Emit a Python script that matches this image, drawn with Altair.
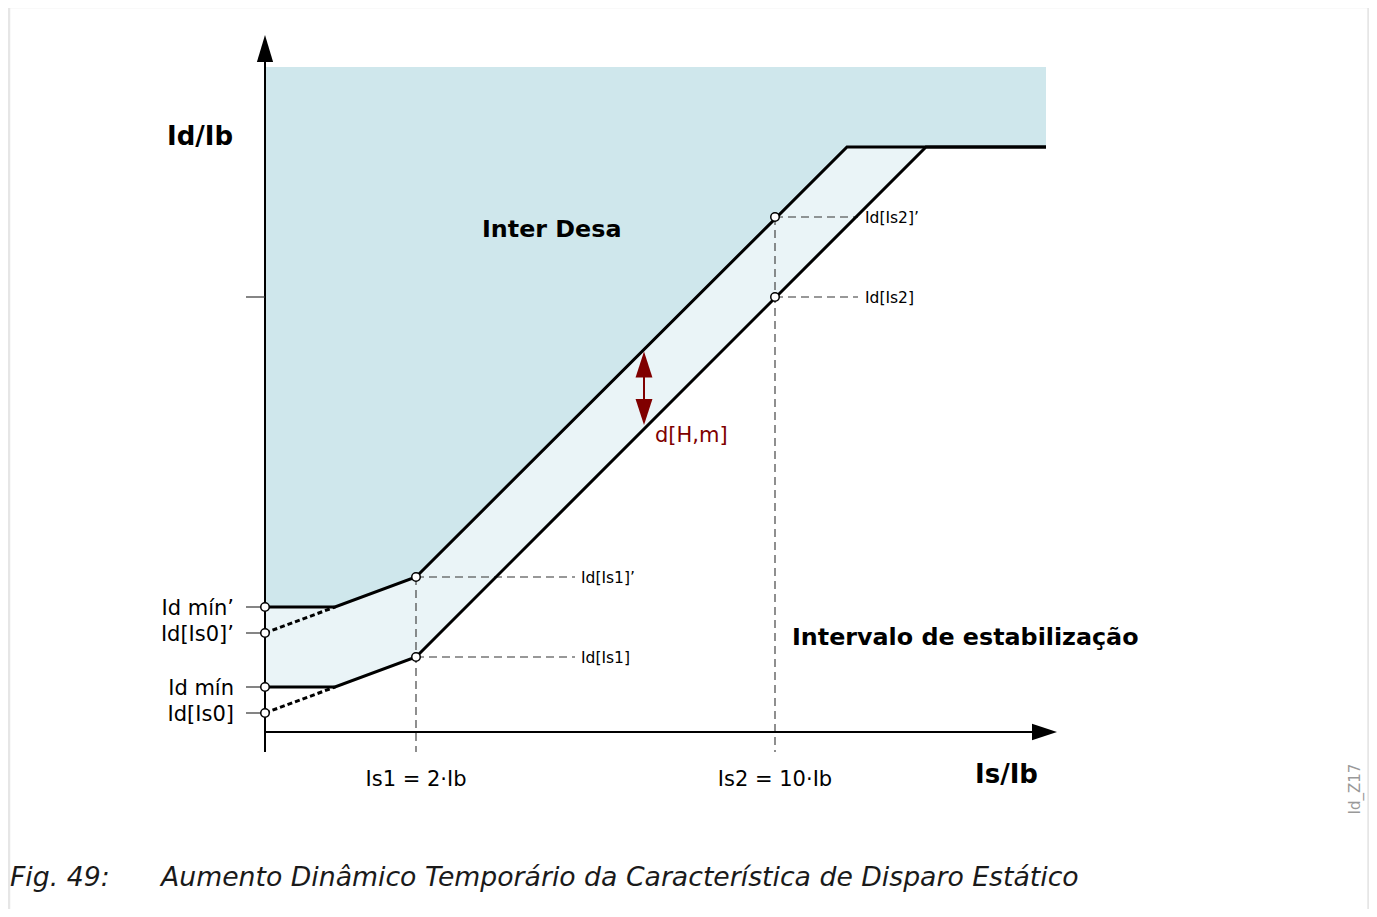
import altair as alt
import pandas as pd

# ---------- schematic data (origin at axis crossing, y upward, units ~px) ----------
upper_x = [0, 70, 151, 582, 781]
upper_y = [125, 125, 155, 585, 585]
lower_x = [0, 70, 151, 661, 781]
lower_y = [45, 45, 75, 585, 585]
band_x = [0, 70, 151, 582, 661]
band_lo = [45, 45, 75, 506, 585]
band_hi = [125, 125, 155, 585, 585]
trip_top = [665, 665, 665, 665, 665]

dot_x0 = [0, 0]
dot_y0 = [19, 99]
dot_x1 = [70, 70]
dot_y1 = [45, 125]

guide_x0 = [151, 510, 151, 151, 510, 510]
guide_y0 = [155, 515, 155, 75, 515, 435]
guide_x1 = [151, 510, 310, 310, 593, 593]
guide_y1 = [-20, -20, 155, 75, 515, 435]

pt_x = [0, 0, 0, 0, 151, 151, 510, 510]
pt_y = [125, 99, 45, 19, 155, 75, 515, 435]

tick_y = [125, 99, 45, 19, 435]

axis_x0 = [0, 0]
axis_y0 = [-20, 0]
axis_x1 = [0, 770]
axis_y1 = [672, 0]

left_labels = ["Id mín’", "Id[Is0]’", "Id mín", "Id[Is0]"]
left_label_y = [125, 99, 45, 19]

small_labels = ["Id[Is1]’", "Id[Is1]", "Id[Is2]’", "Id[Is2]"]
small_label_x = [316, 316, 600, 600]
small_label_y = [155, 75, 515, 435]

xtick_labels = ["Is1 = 2·Ib", "Is2 = 10·Ib"]
xtick_x = [151, 510]

frame_x = [-256, -256, 1103.5, 1103.5]
frame_y = [-177, 725, 725, -177]

xs = alt.Scale(domain=[-257, 1104], nice=False, zero=False)
ys = alt.Scale(domain=[-177, 724], nice=False, zero=False)


def X(f):
    return alt.X(f, type="quantitative", scale=xs, axis=None)


def Y(f):
    return alt.Y(f, type="quantitative", scale=ys, axis=None)


def X2(f):
    return alt.X2(f)


def Y2(f):
    return alt.Y2(f)


dark = pd.DataFrame({"x": upper_x, "y": upper_y, "y2": trip_top})
band = pd.DataFrame({"x": band_x, "y": band_lo, "y2": band_hi})
up = pd.DataFrame({"x": upper_x, "y": upper_y})
lo = pd.DataFrame({"x": lower_x, "y": lower_y})
dots = pd.DataFrame({"x": dot_x0, "y": dot_y0, "x2": dot_x1, "y2": dot_y1})
guides = pd.DataFrame({"x": guide_x0, "y": guide_y0, "x2": guide_x1, "y2": guide_y1})
pts = pd.DataFrame({"x": pt_x, "y": pt_y})
ticks = pd.DataFrame({"x": [-19] * len(tick_y), "y": tick_y, "x2": [0] * len(tick_y)})
axes = pd.DataFrame({"x": axis_x0, "y": axis_y0, "x2": axis_x1, "y2": axis_y1})
frame = pd.DataFrame({"x": frame_x, "y": frame_y, "o": [0, 1, 2, 3]})

layers = []

layers.append(alt.Chart(frame).mark_line(color="#e6e6e6", strokeWidth=2.5).encode(
    x=X("x"), y=Y("y"), order="o:O"))

layers.append(alt.Chart(dark).mark_area(color="#cfe7ec", opacity=1).encode(
    x=X("x"), y=Y("y"), y2=Y2("y2")))
layers.append(alt.Chart(band).mark_area(color="#eaf4f7", opacity=1).encode(
    x=X("x"), y=Y("y"), y2=Y2("y2")))

layers.append(alt.Chart(guides).mark_rule(color="#333333", strokeWidth=1.1, strokeDash=[8, 5]).encode(
    x=X("x"), y=Y("y"), x2=X2("x2"), y2=Y2("y2")))

layers.append(alt.Chart(up).mark_line(color="black", strokeWidth=3).encode(x=X("x"), y=Y("y")))
layers.append(alt.Chart(lo).mark_line(color="black", strokeWidth=3).encode(x=X("x"), y=Y("y")))

layers.append(alt.Chart(dots).mark_rule(color="black", strokeWidth=3, strokeDash=[5, 3]).encode(
    x=X("x"), y=Y("y"), x2=X2("x2"), y2=Y2("y2")))

layers.append(alt.Chart(axes).mark_rule(color="black", strokeWidth=2).encode(
    x=X("x"), y=Y("y"), x2=X2("x2"), y2=Y2("y2")))
layers.append(alt.Chart(ticks).mark_rule(color="#333333", strokeWidth=1.2).encode(
    x=X("x"), y=Y("y"), x2=X2("x2")))

# arrow heads of the axes
ya = pd.DataFrame({"x": [0], "y": [683.5]})
xa = pd.DataFrame({"x": [779.5], "y": [0]})
layers.append(alt.Chart(ya).mark_point(shape="M0,-1L0.6,1L-0.6,1Z", size=729, filled=True,
                                       color="black", opacity=1).encode(x=X("x"), y=Y("y")))
layers.append(alt.Chart(xa).mark_point(shape="M1,0L-1,-0.66L-1,0.66Z", size=625, filled=True,
                                       color="black", opacity=1).encode(x=X("x"), y=Y("y")))

layers.append(alt.Chart(pts).mark_point(shape="circle", size=72, filled=True, fill="white",
                                        stroke="black", strokeWidth=1.5, opacity=1).encode(
    x=X("x"), y=Y("y")))

# red double arrow d[H,m]
shaft = pd.DataFrame({"x": [379], "y": [356], "y2": [333]})
layers.append(alt.Chart(shaft).mark_rule(color="#800000", strokeWidth=2).encode(
    x=X("x"), y=Y("y"), y2=Y2("y2")))
head_up = pd.DataFrame({"x": [379], "y": [367.5]})
head_dn = pd.DataFrame({"x": [379], "y": [320]})
layers.append(alt.Chart(head_up).mark_point(shape="M0,-1L0.65,1L-0.65,1Z", size=676, filled=True,
                                            color="#800000", opacity=1).encode(x=X("x"), y=Y("y")))
layers.append(alt.Chart(head_dn).mark_point(shape="M0,1L0.65,-1L-0.65,-1Z", size=676, filled=True,
                                            color="#800000", opacity=1).encode(x=X("x"), y=Y("y")))

FONT = "DejaVu Sans"


def text_layer(df, size, align="left", weight="normal", color="black", style="normal", angle=0, dy=2):
    kw = dict(font=FONT, fontSize=size, align=align, baseline="middle", fontWeight=weight,
              color=color, fontStyle=style, dy=dy)
    if angle:
        kw["angle"] = angle
    return alt.Chart(df).mark_text(**kw).encode(x=X("x"), y=Y("y"), text="t:N")


layers.append(text_layer(pd.DataFrame({"x": [-31] * 4, "y": left_label_y, "t": left_labels}), 21, align="right"))
layers.append(text_layer(pd.DataFrame({"x": small_label_x, "y": small_label_y, "t": small_labels}), 15.5, dy=1))
layers.append(text_layer(pd.DataFrame({"x": xtick_x, "y": [-46, -46], "t": xtick_labels}), 21, align="center"))
layers.append(text_layer(pd.DataFrame({"x": [-98], "y": [597], "t": ["Id/Ib"]}), 26, weight="bold"))
layers.append(text_layer(pd.DataFrame({"x": [710], "y": [-41], "t": ["Is/Ib"]}), 26, weight="bold"))
layers.append(text_layer(pd.DataFrame({"x": [217, 527], "y": [504, 96],
                                       "t": ["Inter Desa", "Intervalo de estabilização"]}), 23.8, weight="bold"))
layers.append(text_layer(pd.DataFrame({"x": [390], "y": [298], "t": ["d[H,m]"]}), 21, color="#800000"))
layers.append(text_layer(pd.DataFrame({"x": [1090], "y": [-57], "t": ["Id_Z17"]}), 15, align="center",
                         color="#999999", angle=270, dy=0))
layers.append(text_layer(pd.DataFrame({"x": [-255, -104], "y": [-144, -144],
                                       "t": ["Fig. 49:", "Aumento Dinâmico Temporário da Característica de Disparo Estático"]}),
                         26.7, color="#1a1a1a", style="italic"))

chart = alt.layer(*layers).properties(
    width=1361, height=901, padding=0, autosize=alt.AutoSizeParams(type="none")
).configure_view(stroke=None)

chart.save("out.html", embed_options={"renderer": "svg", "actions": False})
